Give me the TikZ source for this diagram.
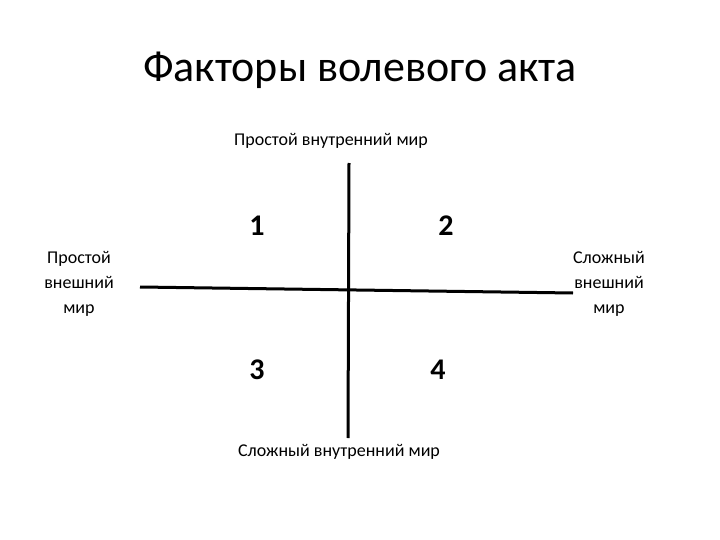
\documentclass[tikz,border=0pt]{standalone}
\usepackage{fontspec}
\setmainfont{Carlito}
\begin{document}
\begin{tikzpicture}%
	[x=1pt, y=-1pt,
	axis/.style={line width=3pt, black},
	label/.style={font=\fontsize{18}{25}\selectfont, align=center, inner sep=0pt},
	number/.style={font=\fontsize{30}{30}\selectfont\bfseries, inner sep=0pt},
	title/.style={font=\fontsize{44}{44}\selectfont, inner sep=0pt}]
%
\useasboundingbox (0,0) rectangle (720,540);
%%
%% Title
%%
\node[title] (title) at (360,70) {Факторы волевого акта};
%%
%% Ends of the axes
%%
\coordinate (top) at (349,163);
\coordinate (bottom) at (348,438);
\coordinate (left) at (140,287);
\coordinate (right) at (573,293);
%%
%% Axes
%%
\draw[axis] (top) -- (bottom);
\draw[axis] (left) -- (right);
%%
%% Axis labels
%%
\node[label] (inner simple) at (331,141) {Простой внутренний мир};
\node[label] (inner complex) at (339,452) {Сложный внутренний мир};
\node[label] (outer simple) at (79,284) {Простой\\внешний\\мир};
\node[label] (outer complex) at (609,284) {Сложный\\внешний\\мир};
%%
%% Quadrants
%%
\node[number] (q1) at (257,226) {1};
\node[number] (q2) at (446,226) {2};
\node[number] (q3) at (257,370) {3};
\node[number] (q4) at (438,370) {4};
%%
\end{tikzpicture}
\end{document}
